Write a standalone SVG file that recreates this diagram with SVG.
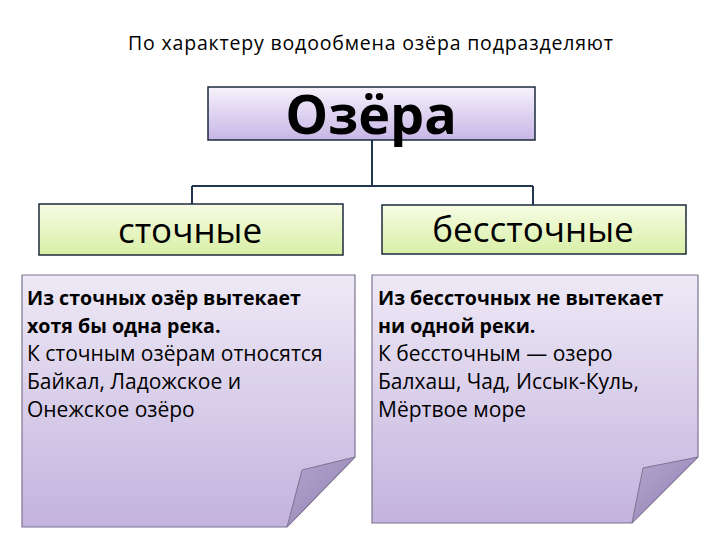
<svg xmlns="http://www.w3.org/2000/svg" width="720" height="540" viewBox="0 0 720 540">
<defs>
<linearGradient id="gTop" x1="0" y1="0" x2="0" y2="1"><stop offset="0" stop-color="#f6f2fb"/><stop offset="1" stop-color="#c7b6e6"/></linearGradient>
<linearGradient id="gGreen" x1="0" y1="0" x2="0" y2="1"><stop offset="0" stop-color="#f7fce4"/><stop offset="1" stop-color="#d8efa6"/></linearGradient>
<linearGradient id="gCard" x1="0" y1="0" x2="0" y2="1"><stop offset="0" stop-color="#eee9f6"/><stop offset="1" stop-color="#c3b3de"/></linearGradient>
<linearGradient id="gFlap" x1="0" y1="0" x2="1" y2="1"><stop offset="0" stop-color="#b4a6cf"/><stop offset="1" stop-color="#8f80b0"/></linearGradient>
<style>
.t{font-family:"Open Sans","Noto Sans",sans-serif;fill:#000}
.box{stroke:#1c2a3c;stroke-width:1.5}
.card{fill:url(#gCard);stroke:#7d7392;stroke-width:1.2}
.flap{fill:url(#gFlap);stroke:#7d7392;stroke-width:1}
.conn{fill:none;stroke:#1f3550;stroke-width:2}
.b{font-weight:bold;font-size:19.6px}
.r{font-size:21px}
</style>
</defs>
<rect width="720" height="540" fill="#fff"/>
<text class="t" x="128" y="50" font-size="19.5" textLength="485" lengthAdjust="spacing">По характеру водообмена озёра подразделяют</text>
<g id="connectors">
<path class="conn" d="M372,140 V186 M192,186 H533 M192,186 V204 M533,186 V205"/>
</g>
<g id="node-ozera">
<rect class="box" x="208" y="87" width="327" height="53" fill="url(#gTop)"/>
<text class="t" x="371" y="134" font-size="54" font-weight="bold" text-anchor="middle">Озёра</text>
</g>
<g id="node-stochnye">
<rect class="box" x="39" y="204" width="304" height="51" fill="url(#gGreen)"/>
<text class="t" x="190" y="243" font-size="35" text-anchor="middle">сточные</text>
</g>
<g id="node-besstochnye">
<rect class="box" x="382" y="205" width="304" height="49" fill="url(#gGreen)"/>
<text class="t" x="533" y="242" font-size="35" text-anchor="middle">бессточные</text>
</g>
<g id="note-left">
<path class="card" d="M22,275 H355 V457 L287,527 H22 Z"/>
<path class="flap" d="M355,457 L302,470 L287,527 Z"/>
<text class="t">
<tspan class="b" x="27" y="305">Из сточных озёр вытекает</tspan>
<tspan class="b" x="27" y="333">хотя бы одна река.</tspan>
<tspan class="r" x="27" y="361">К сточным озёрам относятся</tspan>
<tspan class="r" x="27" y="389">Байкал, Ладожское и</tspan>
<tspan class="r" x="27" y="417">Онежское озёро</tspan>
</text>
</g>
<g id="note-right">
<path class="card" d="M372,275 H698 V457 L632,523 H372 Z"/>
<path class="flap" d="M698,457 L643,468 L632,523 Z"/>
<text class="t">
<tspan class="b" x="378" y="305">Из бессточных не вытекает</tspan>
<tspan class="b" x="378" y="333">ни одной реки.</tspan>
<tspan class="r" x="378" y="361">К бессточным — озеро</tspan>
<tspan class="r" x="378" y="389">Балхаш, Чад, Иссык-Куль,</tspan>
<tspan class="r" x="378" y="417">Мёртвое море</tspan>
</text>
</g>
</svg>
